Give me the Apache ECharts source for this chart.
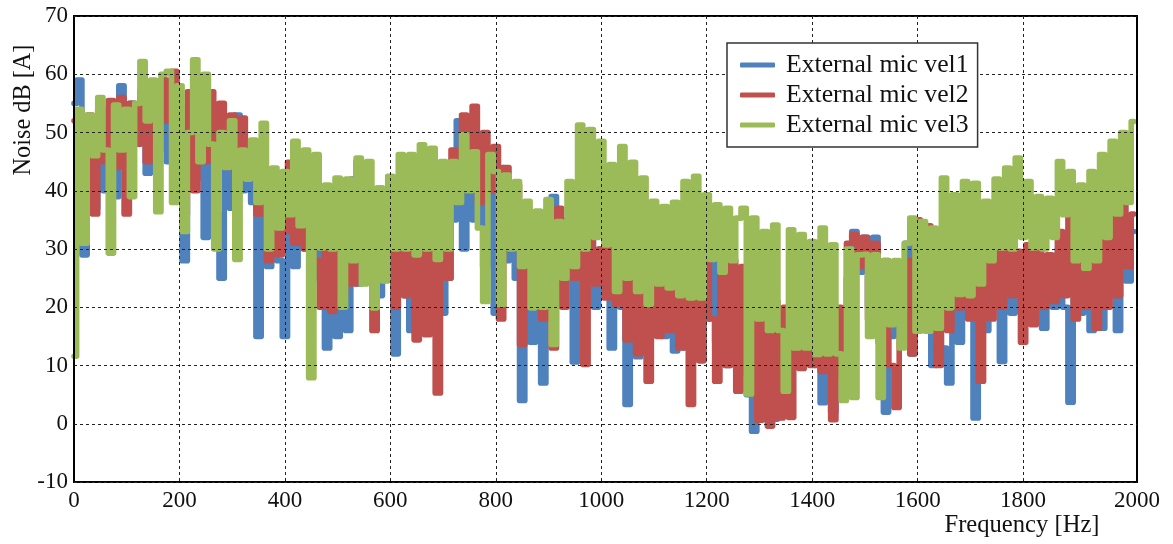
<!DOCTYPE html>
<html>
<head>
<meta charset="utf-8">
<script src="https://cdn.jsdelivr.net/npm/echarts@6/dist/echarts.min.js"></script>
<style>
html,body{margin:0;padding:0;background:#fff;}
#chart{width:1173px;height:544px;}
</style>
</head>
<body>
<div id="chart"></div>
<script>
// Sampled every 10 Hz starting at 0 Hz (values in dB[A])
const vel1 = [
55,59,29,52,37,53,40,54,39,58,
44,55,48,57,43,58,47,59,45,60,
40,28,55,42,57,32,55,36,25,52,
37,53,40,48,38,15,40,27,41,28,
15,40,27,38,30,35,25,37,13,30,
15,40,16,42,24,38,25,36,22,35,
25,12,39,22,16,35,20,33,20,30,
19,25,35,52,30,50,35,47,27,44,
19,44,28,40,25,4,30,14,28,7,
22,39,22,35,28,10.6,30,20,35,20,
30,23,13,28,20,3.3,25,11.5,24,17,
26,16,15,24,12.5,25,13,25,18,26,
18,29,14,26,10,25,9,22,5,-1.3,
18,1,20,0.8,16,3,18,10,20,13,
19,10,3.6,20,2,19,8,25,33,26,
32,20,32,17,2,15,26,15,31,12,
33,17,33,10,25,13,7,22,14,25,
20,1,26,16,28,20,10.7,25,19,28,
20,25,18,27,16.4,28,20,30,20,3.7,
26,19,29,16,30,16.4,40,22,16,33,
24.5,33
];
const vel2 = [
52,36,32.5,53,36,54,45,55.5,44,56,
36,55,48,57,45,58,50,59,52,60.5,
50,36,57,40,57,45,57,46,55,44,
53,46,52.5,42,48,36,39,28,39,29,
33,44.9,31,40,30,36,28,20,38,19.3,
35,22,37,24,45,28,38,16,30,25,
38,20,34,22,36,14.4,37,15.3,33,5.3,
34,25,47,44,53,40,54.5,38,50,40,
47.6,18,44,30,41,13.6,34,20,30,18,
34,13,37,20,33,25,37,10.2,39.6,24,
30,21.6,34,20.5,30,14.4,29,12,27,7.3,
29,15,29,16,30,13,29,3.3,29,10.8,
30,18,7.3,28,10,28,5.6,27,8.5,22,
0.6,21.6,-0.4,21,1,20,1.1,21,9.5,23,
10,22.7,9,21,0.7,20,8,31,32.5,27,
32,18,31,14,28,10,2.8,15.3,28,12,
35,16,34,19,10,25,16,26.7,19.9,30.7,
18,31.3,7.3,34.7,18,35,20,36.4,22,29.6,
14,30.7,17,30,20,29,21,33,22,35.9,
18,32.5,20,29,16.4,36.4,20,40,22,40,
27,36
];
const vel3 = [
11.6,54,31,53,46,56,47,29.3,54.7,47,
54,39,55,62.2,52,59,36.4,60,60.5,38,
58,33,50,62.5,45,60,48,30,50,44,
52,28.2,47,42,48.7,38,51.6,30,43.9,33.6,
43.3,35.9,48.5,34,47,7.9,46.2,30.2,41,30,
42.2,20,42,28,45.6,24,45,19.9,40.5,24.5,
42.5,30,46.2,30,46.2,29,47.9,30,47.3,28.2,
45,30,45,38,49.6,40,46.7,33.6,21,46.2,
43.3,20.5,42.7,30,41.6,27,38.2,19.9,36.5,20,
38.5,13.6,34.7,25,41.6,27,51.3,30,50.5,32,
48.5,30.7,44.5,22.7,47.6,25,44.9,22.7,42.2,20.5,
38.2,24,37.3,23.3,38,22,41.6,21.6,42.5,21.6,
39.3,28.2,37.6,26,37,28,35.3,37,5.1,35.3,
18,33,16,34.1,16,5.6,33.3,13,32.5,13,
31.3,11.9,33.6,12,30.7,12,4,30,4.5,29,
29.1,15,29,4.5,28,17,28,13,31,35.3,
15.9,34.7,15.9,33.6,16.4,42.2,19.9,39.3,22.2,41.6,
22,41.3,24,38.2,28,42,30.2,43.9,30,45.6,
32,41.6,30.2,39,30,38.7,32,45,35.9,43.3,
28,41,26.7,43.3,28,46.2,32,48.5,36,50,
38,51.9
];
const seriesNames = ['External mic vel1', 'External mic vel2', 'External mic vel3'];
const seriesColors = ['#4F81BD', '#C0504D', '#9BBB59'];
const xTickLabels = [0, 200, 400, 600, 800, 1000, 1200, 1400, 1600, 1800, 2016];
const xGridValues = [200, 400, 600, 800, 1000, 1200, 1400, 1600, 1800];
const STEP_HZ = 10;

const toPairs = arr => arr.map((v, i) => [i * STEP_HZ, v]);
const allData = [vel1, vel2, vel3];

const chart = echarts.init(document.getElementById('chart'), null, {renderer: 'canvas'});
const serif = '"Liberation Serif", "Times New Roman", serif';

chart.setOption({
  animation: false,
  backgroundColor: '#fff',
  grid: {left: 74, right: 36, top: 16, bottom: 62, show: true, backgroundColor: 'transparent', borderColor: '#000', borderWidth: 2, z: 3},
  legend: {
    data: seriesNames,
    orient: 'vertical', left: 727, top: 43,
    padding: [9, 9, 9, 13],
    itemWidth: 35, itemHeight: 5, itemGap: 4,
    icon: 'roundRect',
    backgroundColor: '#fff', borderColor: '#333', borderWidth: 1.5, borderRadius: 0,
    textStyle: {fontFamily: serif, fontSize: 25.7, color: '#111', lineHeight: 26, padding: [0, 0, 0, 6]},
    z: 10
  },
  xAxis: {
    type: 'value', min: 0, max: 2016, interval: 200, z: 3,
    axisLine: {show: false},
    axisTick: {show: false, customValues: xGridValues},
    axisLabel: {
      customValues: xTickLabels,
      formatter: v => (v > 2000 ? '2000' : String(v)),
      margin: 7, fontFamily: serif, fontSize: 23, color: '#111'
    },
    splitLine: {show: true, lineStyle: {color: '#222', width: 1, type: [3, 3]}}
  },
  yAxis: {
    type: 'value', min: -10, max: 70, interval: 10, z: 3,
    axisLine: {show: false},
    axisTick: {show: false},
    axisLabel: {margin: 6, fontFamily: serif, fontSize: 23, color: '#111'},
    splitLine: {show: true, lineStyle: {color: '#222', width: 1, type: [3, 3]}}
  },
  graphic: [
    {type: 'text', x: 24, y: 110, rotation: Math.PI / 2, z: 10,
     style: {text: 'Noise dB [A]', fontFamily: serif, fontSize: 24.3, fill: '#111', align: 'center', verticalAlign: 'middle', textAlign: 'center', textVerticalAlign: 'middle'}},
    {type: 'text', x: 1022, y: 526, z: 10,
     style: {text: 'Frequency [Hz]', fontFamily: serif, fontSize: 24.6, fill: '#111', align: 'center', verticalAlign: 'middle', textAlign: 'center', textVerticalAlign: 'middle'}}
  ],
  series: allData.map((arr, i) => ({
    name: seriesNames[i],
    type: 'line',
    step: 'middle',
    data: toPairs(arr),
    showSymbol: false,
    symbol: 'none',
    z: 2,
    color: seriesColors[i],
    lineStyle: {color: seriesColors[i], width: 5.6, cap: 'round', join: 'round'},
    emphasis: {disabled: true}
  }))
});
</script>
</body>
</html>
